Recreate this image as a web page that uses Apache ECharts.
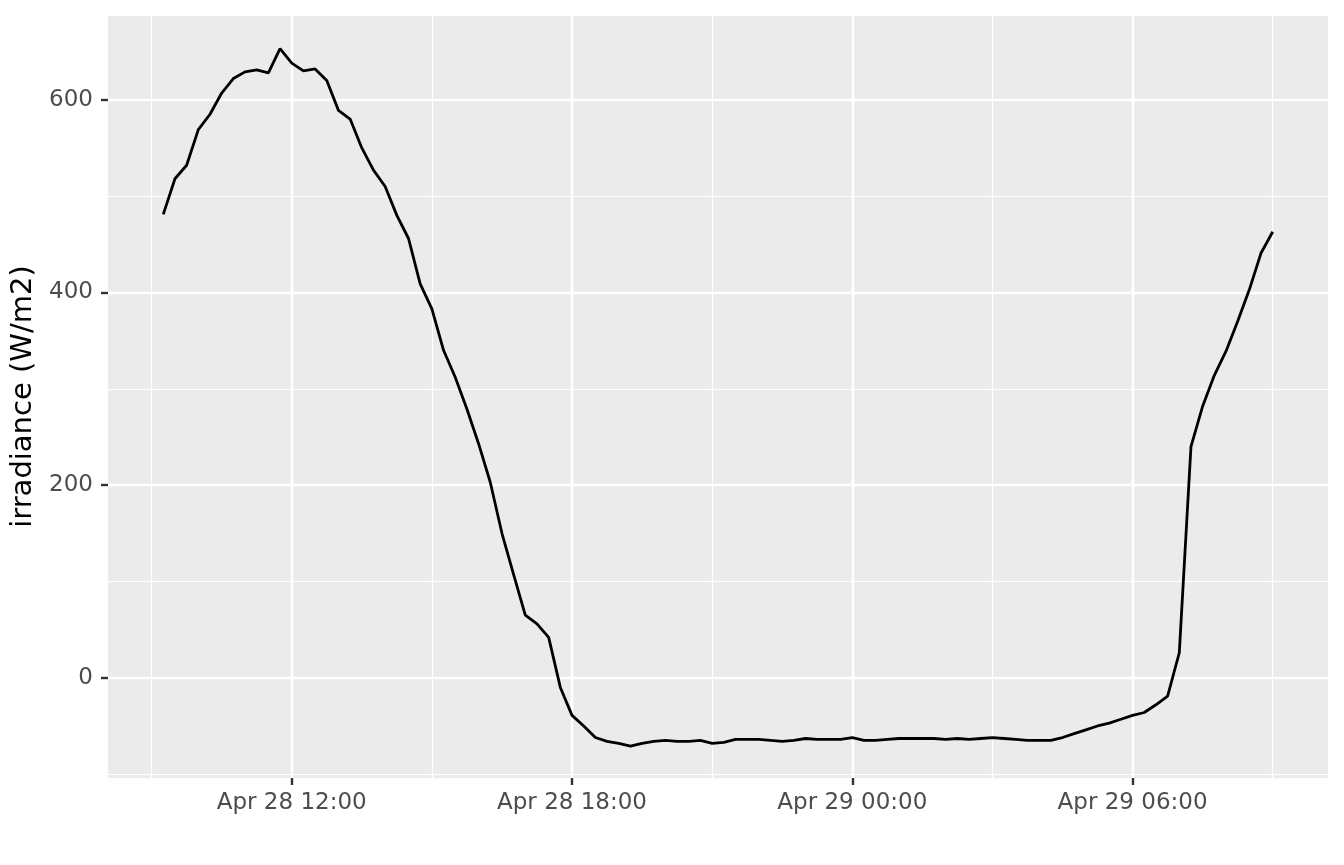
<!DOCTYPE html>
<html><head><meta charset="utf-8">
<script src="https://cdn.jsdelivr.net/npm/echarts@6/dist/echarts.min.js"></script>
<style>html,body{margin:0;padding:0;background:#fff}#c{width:1344px;height:865px}</style>
</head><body><div id="c"></div>
<script>
// time in minutes since Apr 28 00:00
const dataStartMinute = 555;   // Apr 28 09:15
const dataStepMinutes = 15;
const irradiance = [
  481, 518, 532, 569, 585, 607, 622, 629, 631, 628,
  653, 638, 630, 632, 620, 589, 580, 550, 527, 510,
  480, 456, 409, 383, 340, 312, 279, 243, 203, 150,
  107, 65, 56, 42, -10, -39, -50, -62, -66, -68,
  -71, -68, -66, -65, -66, -66, -65, -68, -67, -64,
  -64, -64, -65, -66, -65, -63, -64, -64, -64, -62,
  -65, -65, -64, -63, -63, -63, -63, -64, -63, -64,
  -63, -62, -63, -64, -65, -65, -65, -62, -58, -54,
  -50, -47, -43, -39, -36, -28, -19, 26, 240, 282,
  314, 339, 370, 403, 441, 463
];
const axisStartMinute = 484;   // Apr 28 08:04
const axisEndMinute = 2051;    // Apr 29 10:11
const majorTickMinutes = 360;  // 6 h labels
const minorTickMinutes = 180;  // 3 h grid
const yMin = -104, yMax = 688;
const yTicks = [0, 200, 400, 600];

function pad(n){ return (n < 10 ? '0' : '') + n; }
function timeLabel(m){
  const day = 28 + Math.floor(m / 1440);
  const r = m % 1440;
  return 'Apr ' + day + ' ' + pad(Math.floor(r / 60)) + ':' + pad(r % 60);
}
const categoryMinutes = [];
for (let m = axisStartMinute; m <= axisEndMinute; m++) categoryMinutes.push(m);
const categories = categoryMinutes.map(timeLabel);
const seriesData = irradiance.map((v, i) => [timeLabel(dataStartMinute + i * dataStepMinutes), v]);

const isMajor = (idx) => categoryMinutes[idx] % majorTickMinutes === 0;
const isMinor = (idx) => categoryMinutes[idx] % minorTickMinutes === 0;

const font = 'DejaVu Sans';
const chart = echarts.init(document.getElementById('c'), null, {renderer: 'canvas'});
chart.setOption({
  animation: false,
  backgroundColor: '#ffffff',
  grid: {left: 108, right: 16, top: 15, bottom: 87, show: true, backgroundColor: '#EBEBEB', borderWidth: 0, containLabel: false, outerBoundsMode: 'none'},
  xAxis: [{
    type: 'category', data: categories, boundaryGap: false, position: 'bottom',
    axisLine: {show: false, onZero: false},
    axisTick: {show: true, length: 7, interval: isMajor, lineStyle: {color: '#333333', width: 2.4}},
    axisLabel: {interval: isMajor, color: '#4D4D4D', fontSize: 23, fontFamily: font, margin: 14},
    splitLine: {show: true, interval: isMajor, lineStyle: {color: '#ffffff', width: 2.4}}
  }, {
    type: 'category', data: categories, boundaryGap: false, position: 'bottom',
    axisLine: {show: false, onZero: false}, axisTick: {show: false}, axisLabel: {show: false},
    splitLine: {show: true, interval: isMinor, lineStyle: {color: '#ffffff', width: 1.2}}
  }],
  yAxis: [{
    type: 'value', min: yMin, max: yMax, splitNumber: 4,
    axisLine: {show: false, onZero: false},
    axisTick: {show: true, length: 7, customValues: yTicks, lineStyle: {color: '#333333', width: 2.4}},
    axisLabel: {customValues: yTicks, color: '#4D4D4D', fontSize: 23, fontFamily: font, margin: 15,
      formatter: v => (yTicks.indexOf(v) >= 0 ? String(v) : '')},
    splitLine: {show: true, lineStyle: {color: '#ffffff', width: 2.4}},
    name: 'irradiance (W/m2)', nameLocation: 'middle', nameGap: 59,
    nameTextStyle: {color: '#000000', fontSize: 29, fontFamily: font}
  }, {
    type: 'value', min: yMin, max: yMax, splitNumber: 8,
    axisLine: {show: false, onZero: false}, axisTick: {show: false}, axisLabel: {show: false},
    splitLine: {show: true, lineStyle: {color: '#ffffff', width: 1.2}}
  }],
  series: [{
    type: 'line', xAxisIndex: 0, yAxisIndex: 0, data: seriesData,
    symbol: 'none', lineStyle: {color: '#000000', width: 2.8}, z: 5
  }]
});
</script></body></html>
